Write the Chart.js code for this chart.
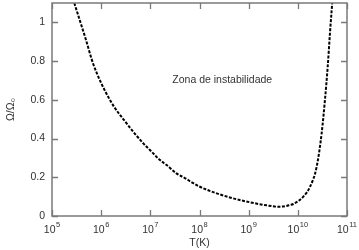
<!DOCTYPE html>
<html>
<head>
<meta charset="utf-8">
<script src="https://cdn.jsdelivr.net/npm/chart.js@4/dist/chart.umd.min.js"></script>
<style>
  html, body { margin: 0; padding: 0; background: #fff; }
  #wrap { width: 359px; height: 250px; }
</style>
</head>
<body>
<div id="wrap"><canvas id="c" width="359" height="250"></canvas></div>
<script>
// Temperature T (K) along the curve
const temperatures = [2.84e5, 4.9e5, 6.9e5, 1.51e6, 3.3e6, 7.2e6, 9.8e6, 1.57e7, 2.15e7, 3.4e7, 4.7e7, 1.02e8, 2.24e8, 4.86e8, 1.06e9, 2.32e9, 3.98e9, 5.9e9, 6.9e9, 8.1e9, 1.29e10, 1.77e10, 2.42e10, 3.05e10, 3.56e10, 4.05e10, 4.5e10, 5.0e10];
// Omega / Omega_0
const omegaRatio = [1.10, 0.91, 0.785, 0.599, 0.478, 0.375, 0.341, 0.289, 0.263, 0.22, 0.20, 0.151, 0.117, 0.091, 0.071, 0.055, 0.048, 0.052, 0.057, 0.062, 0.100, 0.151, 0.255, 0.427, 0.599, 0.771, 0.943, 1.10];
const xTickValues = [1e5, 1e6, 1e7, 1e8, 1e9, 1e10, 1e11];
const xTickBase = '10';
const xTickExponents = ['5', '6', '7', '8', '9', '10', '11'];
const yTickValues = [0, 0.2, 0.4, 0.6, 0.8, 1];
const xTitle = 'T(K)';
const yTitle = 'Ω/Ω₀';
const annotationText = 'Zona de instabilidade';
const annotationT = 2.9e8;
const annotationOmega = 0.70;

const FONT = "'Liberation Sans', Arial, Helvetica, sans-serif";
const TXT = '#333333';
const FRAME = '#7a7a7a';

const framePlugin = {
  id: 'framePlugin',
  afterDraw(chart) {
    const {ctx, chartArea: a, scales: {x, y}} = chart;
    ctx.save();
    ctx.strokeStyle = FRAME;
    ctx.lineWidth = 1.3;
    const L = 6;
    ctx.beginPath();
    xTickValues.forEach(v => {
      const px = Math.round(x.getPixelForValue(v)) + 0.5;
      ctx.moveTo(px, a.bottom); ctx.lineTo(px, a.bottom - L);
      ctx.moveTo(px, a.top); ctx.lineTo(px, a.top + L);
    });
    yTickValues.forEach(v => {
      const py = Math.round(y.getPixelForValue(v)) + 0.5;
      ctx.moveTo(a.left, py); ctx.lineTo(a.left + L, py);
      ctx.moveTo(a.right, py); ctx.lineTo(a.right - L, py);
    });
    ctx.stroke();
    ctx.lineWidth = 1.5;
    ctx.strokeRect(a.left, a.top, a.right - a.left, a.bottom - a.top);

    // x tick labels: 10 with superscript exponent
    ctx.fillStyle = TXT;
    ctx.textBaseline = 'alphabetic';
    ctx.textAlign = 'left';
    const baseFont = "10.5px " + FONT, expFont = "7.5px " + FONT;
    xTickValues.forEach((v, i) => {
      ctx.font = baseFont;
      const wb = ctx.measureText(xTickBase).width;
      ctx.font = expFont;
      const we = ctx.measureText(xTickExponents[i]).width;
      const total = wb + 0.5 + we;
      const x0 = x.getPixelForValue(v) - total / 2;
      ctx.font = baseFont;
      ctx.fillText(xTickBase, x0, a.bottom + 16.5);
      ctx.font = expFont;
      ctx.fillText(xTickExponents[i], x0 + wb + 0.5, a.bottom + 11);
    });

    // annotation
    ctx.font = "10.5px " + FONT;
    ctx.textAlign = 'center';
    ctx.textBaseline = 'middle';
    ctx.fillText(annotationText, x.getPixelForValue(annotationT), y.getPixelForValue(annotationOmega));
    ctx.restore();
  }
};

new Chart(document.getElementById('c'), {
  type: 'line',
  data: {
    datasets: [{
      data: temperatures.map((t, i) => ({x: t, y: omegaRatio[i]})),
      borderColor: '#000',
      borderWidth: 2,
      borderDash: [3, 1.5],
      pointRadius: 0,
      fill: false,
      cubicInterpolationMode: 'monotone'
    }]
  },
  options: {
    responsive: false,
    animation: false,
    devicePixelRatio: 1,
    layout: { padding: { left: 0, top: 3, right: 12, bottom: 0 } },
    plugins: { legend: { display: false }, tooltip: { enabled: false } },
    scales: {
      x: {
        type: 'logarithmic',
        min: 1e5, max: 1e11,
        afterBuildTicks(s) { s.ticks = xTickValues.map(v => ({value: v})); },
        afterFit(s) { s.height = 34; s.paddingLeft = 0; s.paddingRight = 0; },
        grid: { display: false, drawTicks: false },
        border: { display: false },
        ticks: { display: false },
        title: { display: true, text: xTitle, color: TXT, font: { family: FONT, size: 10.5 }, padding: { top: 0, bottom: 1 } }
      },
      y: {
        min: 0, max: 1.1,
        afterBuildTicks(s) { s.ticks = yTickValues.map(v => ({value: v})); },
        afterFit(s) { s.width = 52; s.paddingTop = 0; s.paddingBottom = 0; },
        grid: { display: false, drawTicks: false },
        border: { display: false },
        ticks: {
          color: TXT, font: { family: FONT, size: 10.5 }, padding: 7,
          callback: (v) => String(v)
        },
        title: { display: true, text: yTitle, color: TXT, font: { family: FONT, size: 10.5 }, padding: { top: 5, bottom: 0 } }
      }
    }
  },
  plugins: [framePlugin]
});
</script>
</body>
</html>
